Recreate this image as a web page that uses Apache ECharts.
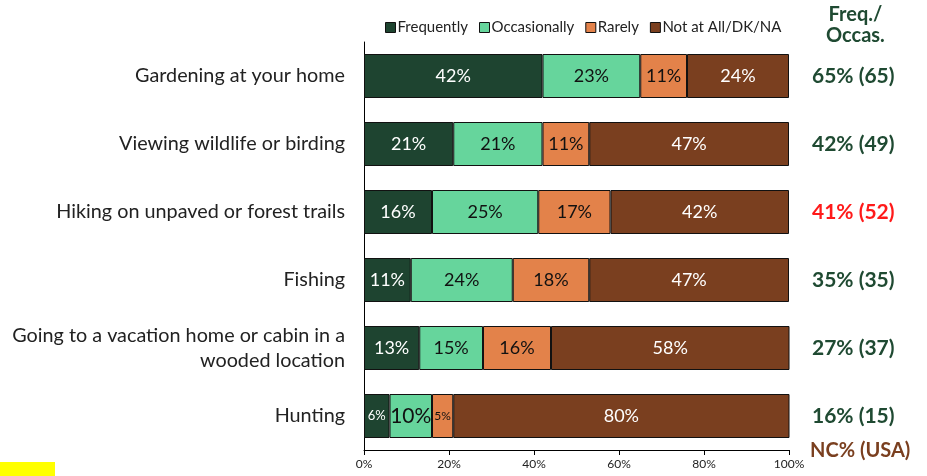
<!DOCTYPE html>
<html>
<head>
<meta charset="utf-8">
<script src="https://cdn.jsdelivr.net/npm/echarts@6/dist/echarts.min.js"></script>
<style>
  html, body { margin: 0; padding: 0; background: #fff; }
  #main { width: 927px; height: 476px; }
</style>
</head>
<body>
<div id="main"></div>
<script>
var categories = [
  "Gardening at your home",
  "Viewing wildlife or birding",
  "Hiking on unpaved or forest trails",
  "Fishing",
  "Going to a vacation home or cabin in a\nwooded location",
  "Hunting"
];
var frequently = [42, 21, 16, 11, 13, 6];
var occasionally = [23, 21, 25, 24, 15, 10];
var rarely = [11, 11, 17, 18, 16, 5];
var notAtAll = [24, 47, 42, 47, 58, 80];
var freqOccas = ["65% (65)", "42% (49)", "41% (52)", "35% (35)", "27% (37)", "16% (15)"];
var highlight = [false, false, true, false, false, false]; // shown in red
var xTicks = [0, 20, 40, 60, 80, 100];

var font = "Lato, 'Open Sans', sans-serif";
var myecharts = echarts.init(document.getElementById("main"));

function seg(name, data, color, labelColor, sizes) {
  return {
    name: name,
    type: "bar",
    stack: "all",
    barWidth: 44,
    data: data,
    itemStyle: { color: color, borderColor: "#111", borderWidth: 1 },
    label: {
      show: true,
      position: "insideLeft",
      distance: 0,
      color: labelColor,
      textBorderWidth: 0,
      fontFamily: font,
      fontSize: 18,
      formatter: function (p) { return p.value + "%"; }
    },
    // centre each label in its segment
    labelLayout: function (p) {
      var r = p.rect;
      return {
        x: r.x + r.width / 2,
        y: r.y + r.height / 2,
        align: "center",
        verticalAlign: "middle",
        fontSize: sizes ? sizes[p.dataIndex] : 18
      };
    }
  };
}

var option = {
  animation: false,
  textStyle: { fontFamily: font },
  legend: {
    top: 15,
    left: 380,
    itemWidth: 10,
    itemHeight: 10,
    itemGap: 11,
    icon: "rect",
    textStyle: { fontSize: 15, color: "#222", padding: [0, 0, 0, -3] },
    itemStyle: { borderColor: "#111", borderWidth: 1 },
    data: ["Frequently", "Occasionally", "Rarely", "Not at All/DK/NA"]
  },
  grid: { left: 364, right: 138, top: 42, bottom: 26, containLabel: false },
  xAxis: {
    type: "value",
    min: 0,
    max: 100,
    interval: 20,
    axisLine: { show: true, lineStyle: { color: "#000" } },
    axisTick: { show: true, length: 5, lineStyle: { color: "#000" } },
    splitLine: { show: false },
    axisLabel: {
      fontSize: 12,
      color: "#222",
      margin: 8,
      formatter: function (v) { return xTicks.indexOf(v) >= 0 ? v + "%" : ""; }
    }
  },
  yAxis: [
    {
      type: "category",
      inverse: true,
      data: categories,
      axisLine: { show: true, lineStyle: { color: "#000" } },
      axisTick: { show: false },
      axisLabel: { fontSize: 19.8, color: "#222", margin: 19, lineHeight: 25, align: "right" }
    },
    {
      type: "category",
      inverse: true,
      position: "right",
      data: freqOccas,
      axisLine: { show: false },
      axisTick: { show: false },
      axisLabel: {
        margin: 23,
        align: "left",
        formatter: function (v, i) {
          return highlight[i] ? "{r|" + v + "}" : "{g|" + v + "}";
        },
        rich: {
          g: { fontSize: 21, fontWeight: "bold", color: "#1f4a32", fontFamily: font },
          r: { fontSize: 21, fontWeight: "bold", color: "#ff1a1a", fontFamily: font }
        }
      }
    }
  ],
  series: [
    seg("Frequently", frequently, "#1e4430", "#ffffff", [18, 18, 18, 18, 18, 13]),
    seg("Occasionally", occasionally, "#66d59c", "#111111", [18, 18, 18, 18, 18, 21]),
    seg("Rarely", rarely, "#e3824a", "#111111", [18, 18, 18, 18, 18, 12]),
    seg("Not at All/DK/NA", notAtAll, "#7a3f1f", "#ffffff")
  ],
  graphic: [
    {
      type: "text",
      left: 826,
      top: 4,
      style: {
        text: "Freq./\nOccas.",
        fill: "#1f4a32",
        font: "bold 20px " + font,
        textAlign: "center",
        lineHeight: 21
      }
    },
    {
      type: "text",
      left: 810,
      top: 441,
      style: { text: "NC% (USA)", fill: "#7a3f1f", font: "bold 20px " + font }
    },
    {
      type: "rect",
      left: 0,
      top: 462,
      shape: { width: 55, height: 14 },
      style: { fill: "#ffff00" }
    }
  ]
};
myecharts.setOption(option);
</script>
</body>
</html>
